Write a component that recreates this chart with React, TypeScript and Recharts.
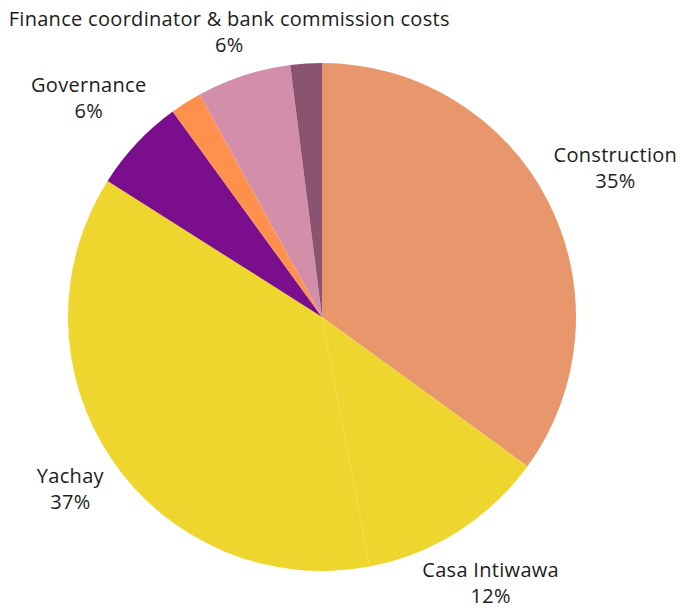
import { PieChart, Pie, Cell } from "recharts";

const categories = [
  "Construction",
  "Casa Intiwawa",
  "Yachay",
  "Governance",
  "Other",
  "Finance coordinator & bank commission costs",
  "Miscellaneous",
];
const shares = [35, 12, 37, 6, 2, 6, 2];
const colors = ["#E8976C", "#EFD62E", "#EFD62E", "#7A0E8C", "#FF914D", "#D38FA9", "#8A5470"];

const data = categories.map((name, i) => ({ name, value: shares[i] }));

const RADIAN = Math.PI / 180;
const FONT = "'Open Sans', sans-serif";
const FONT_SIZE = 20;
const SPACING = 0.3;
const LINE_H = 26;
const CAP = 15;
const LABEL_GAP = 11; // gap between pie edge and nearest corner of label block

let ctx: CanvasRenderingContext2D | null = null;
function textWidth(s: string) {
  if (!ctx) {
    ctx = document.createElement("canvas").getContext("2d");
  }
  if (!ctx) return s.length * FONT_SIZE * 0.56;
  ctx.font = `${FONT_SIZE}px "Open Sans"`;
  return ctx.measureText(s).width + s.length * SPACING;
}

// distance from origin to nearest point of a box centred at (bx, by)
function boxDist(bx: number, by: number, hw: number, hh: number) {
  const px = Math.max(bx - hw, Math.min(0, bx + hw));
  const py = Math.max(by - hh, Math.min(0, by + hh));
  return Math.hypot(px, py);
}

function renderLabel(props: any) {
  const { cx, cy, midAngle, outerRadius, percent, name } = props;
  if (percent < 0.05) return null;
  const pct = `${Math.round(percent * 100)}%`;
  const dx = Math.cos(-midAngle * RADIAN);
  const dy = Math.sin(-midAngle * RADIAN);
  const hw = Math.max(textWidth(name), textWidth(pct)) / 2;
  const hh = LINE_H / 2 + CAP / 2;
  const target = outerRadius + LABEL_GAP;
  let lo = 0;
  let hi = 900;
  for (let k = 0; k < 40; k++) {
    const mid = (lo + hi) / 2;
    if (boxDist(mid * dx, mid * dy, hw, hh) < target) lo = mid;
    else hi = mid;
  }
  const x = cx + hi * dx;
  const y = cy + hi * dy;
  return (
    <text
      x={x}
      y={y}
      textAnchor="middle"
      fill="#1c1c1c"
      fontFamily={FONT}
      fontSize={FONT_SIZE}
      letterSpacing={SPACING}
    >
      <tspan x={x} dy={-LINE_H / 2 + CAP / 2}>
        {name}
      </tspan>
      <tspan x={x} dy={LINE_H}>
        {pct}
      </tspan>
    </text>
  );
}

export default function App() {
  return (
    <div style={{ position: "fixed", top: 0, left: 0, width: 680, height: 608, background: "#fff" }}>
      <PieChart width={680} height={608} margin={{ top: 0, right: 0, bottom: 0, left: 0 }}>
        <Pie
          data={data}
          dataKey="value"
          nameKey="name"
          cx={322}
          cy={317}
          outerRadius={254}
          startAngle={90}
          endAngle={-270}
          stroke="none"
          label={renderLabel}
          labelLine={false}
          isAnimationActive={false}
        >
          {data.map((d, i) => (
            <Cell key={d.name} fill={colors[i]} />
          ))}
        </Pie>
      </PieChart>
    </div>
  );
}
